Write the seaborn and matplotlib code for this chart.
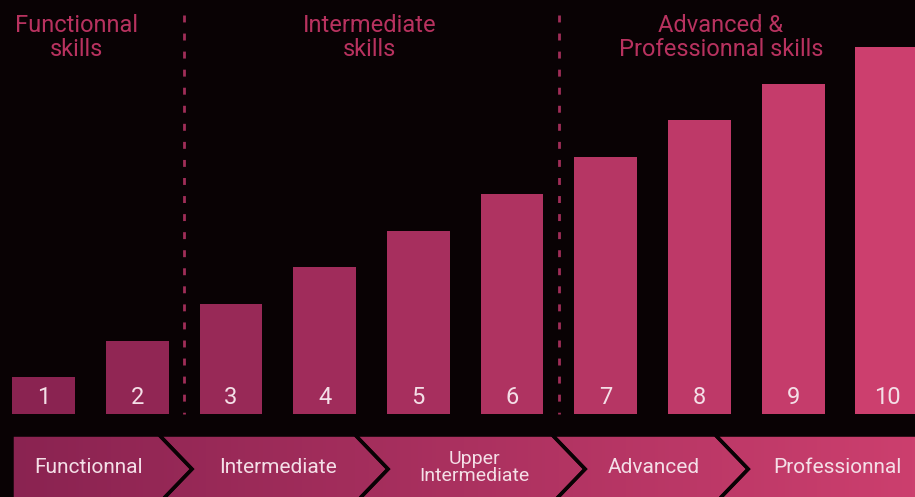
import numpy as np
import pandas as pd
import seaborn as sns
import matplotlib.pyplot as plt
from matplotlib.patches import Polygon
from matplotlib.colors import LinearSegmentedColormap

# data
levels = ["1", "2", "3", "4", "5", "6", "7", "8", "9", "10"]
heights = [1, 2, 3, 4, 5, 6, 7, 8, 9, 10]
stages = ["Functionnal", "Intermediate", "Upper\nIntermediate", "Advanced", "Professionnal"]
groups = ["Functionnal\nskills", "Intermediate\nskills", "Advanced &\nProfessionnal skills"]

# layout (in bar-index units)
group_lines = [1.5, 5.5]
group_x = [0.35, 3.48, 7.23]
stage_tips = [1.585, 3.677, 5.78, 7.52]
stage_x = [0.48, 2.5, 4.6, 6.51, 8.47]

bg = "#090204"
dark, light = "#8a2351", "#cc3f6e"
pink_text = "#b8325f"
white_text = "#f4dfe7"

sns.set_theme(style="white")
plt.rcParams['font.family'] = ['Roboto', 'DejaVu Sans']

df = pd.DataFrame({"level": levels, "height": heights})
pal = sns.blend_palette([dark, light], len(levels))

fig = plt.figure(figsize=(9.15, 4.97), dpi=100, facecolor=bg)
ax = fig.add_axes([0, 0, 1, 1])
ax.set_facecolor(bg)

sns.barplot(data=df, x="level", y="height", hue="level", palette=pal,
            legend=False, width=0.67, saturation=1, linewidth=0, ax=ax)

xmin, xmax = -0.464, 9.3
ax.set_axis_off()

# number labels on bars
for i, lab in enumerate(levels):
    ax.text(i, 0.44, lab, ha="center", va="center", color=white_text, fontsize=17)

# dashed group separators (drawn top-down so dashes start at the top)
for gx in group_lines:
    ax.plot([gx, gx], [10.87, 0], color="#a02d58", lw=2, ls=(0, (2.5, 4)), zorder=1)

# group headers
for gx, g in zip(group_x, groups):
    ax.text(gx, 10.27, g, ha="center", va="center", color=pink_text,
            fontsize=17, linespacing=1.05)

# chevron band
top, mid, bot = -0.572, -1.499, -2.425
d = 0.35
x0 = -0.336
cmap = LinearSegmentedColormap.from_list("band", [dark, light])
grad = np.linspace(0, 1, 256)[None, :]
edges = [None] + stage_tips + [None]
for k in range(len(stages)):
    left, right = edges[k], edges[k + 1]
    pts = []
    if left is None:
        pts += [(x0, bot), (x0, top)]
    else:
        pts += [(left - d, bot), (left, mid), (left - d, top)]
    if right is None:
        pts += [(9.6, top), (9.6, bot)]
    else:
        pts += [(right - d, top), (right, mid), (right - d, bot)]
    poly = Polygon(pts, closed=True, facecolor="none", edgecolor=bg, lw=2.5, zorder=3)
    ax.add_patch(poly)
    im = ax.imshow(grad, extent=(x0, xmax, bot, top), cmap=cmap, aspect="auto", zorder=2)
    im.set_clip_path(poly)
    fs = 14 if "\n" in stages[k] else 15
    ax.text(stage_x[k], -1.45, stages[k], ha="center", va="center", color=white_text,
            fontsize=fs, linespacing=0.95, zorder=4)

ax.set_xlim(xmin, xmax)
ax.set_ylim(-2.26, 11.28)

plt.savefig("out.png", dpi=100, facecolor=bg)
